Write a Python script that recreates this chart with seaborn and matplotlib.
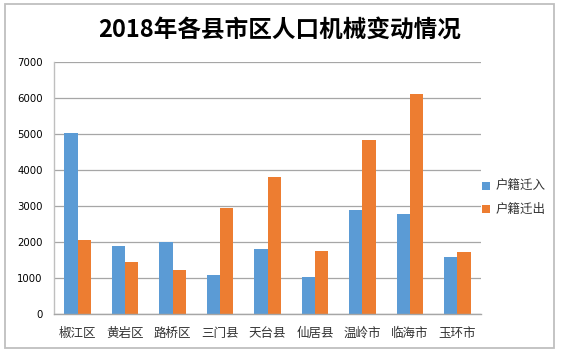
import matplotlib
matplotlib.use("Agg")
import matplotlib.pyplot as plt
from matplotlib.patches import Rectangle, Patch
import seaborn as sns
import pandas as pd

categories = ["椒江区", "黄岩区", "路桥区", "三门县", "天台县", "仙居县", "温岭市", "临海市", "玉环市"]
moved_in = [5020, 1890, 1990, 1085, 1810, 1040, 2890, 2780, 1585]
moved_out = [2060, 1455, 1235, 2955, 3810, 1755, 4840, 6110, 1725]
series_names = ["户籍迁入", "户籍迁出"]
y_ticks = [0, 1000, 2000, 3000, 4000, 5000, 6000, 7000]

df = pd.DataFrame({
    "县市区": categories * 2,
    "人数": moved_in + moved_out,
    "类型": [series_names[0]] * len(categories) + [series_names[1]] * len(categories),
})

sns.set_theme(style="white")
plt.rcParams["font.family"] = ["Noto Sans CJK SC", "DejaVu Sans"]

W, H = 562, 356
fig = plt.figure(figsize=(W / 100, H / 100), dpi=100)
ax = fig.add_axes([54 / W, (H - 314) / H, (481 - 54) / W, (314 - 62) / H])

palette = {series_names[0]: "#5B9BD5", series_names[1]: "#ED7D31"}
sns.barplot(data=df, x="县市区", y="人数", hue="类型", palette=palette,
            width=0.56, gap=0, linewidth=0, saturation=1, ax=ax, legend=False)

ax.set_ylim(0, 7000)
ax.set_yticks(y_ticks)
ax.set_yticklabels([str(v) for v in y_ticks], family=["DejaVu Sans"], fontsize=7.3, color="#000000")
ax.set_xlabel("")
ax.set_ylabel("")
ax.tick_params(axis="x", length=0, pad=9, labelsize=9, labelcolor="#333333")
ax.tick_params(axis="y", length=0, pad=8)
ax.yaxis.grid(True, color="#A6A6A6", linewidth=0.9)
ax.set_axisbelow(True)
for s in ["top", "right"]:
    ax.spines[s].set_visible(False)
ax.spines["left"].set_color("#BFBFBF")
ax.spines["left"].set_linewidth(1.0)
ax.spines["bottom"].set_color("#A6A6A6")
ax.spines["bottom"].set_linewidth(1.0)
ax.set_xlim(-0.5, len(categories) - 0.5)

fig.text(280 / W, 1 - 30 / H, "2018年各县市区人口机械变动情况", ha="center", va="center",
         fontsize=17, fontweight="bold", color="#000000")

handles = [Patch(facecolor=palette[n], edgecolor="none", label=n) for n in series_names]
fig.legend(handles=handles, loc="center left", bbox_to_anchor=(471 / W, 1 - 198 / H),
           frameon=False, fontsize=9, handlelength=0.6, handleheight=0.6,
           handletextpad=0.5, labelspacing=0.8, labelcolor="#333333")

fig.add_artist(Rectangle((5 / W, (H - 348) / H), (554 - 5) / W, (348 - 4) / H,
                         transform=fig.transFigure, fill=False, edgecolor="#BFBFBF", linewidth=1.3))

fig.savefig("out.png", dpi=100)
